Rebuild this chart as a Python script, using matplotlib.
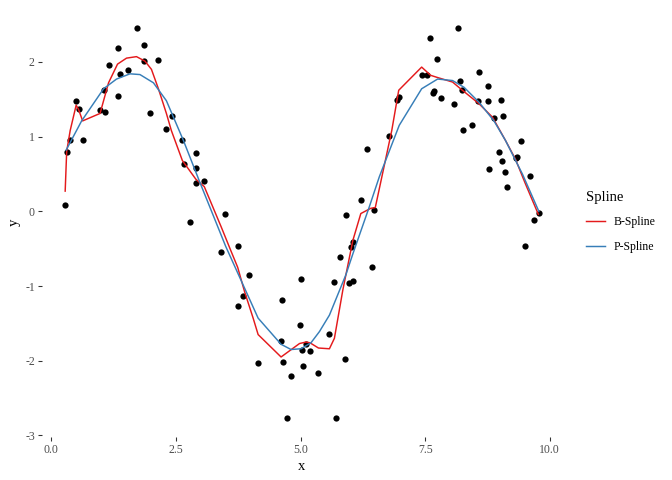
import matplotlib
matplotlib.use("Agg")
import matplotlib.pyplot as plt
import numpy as np

# observed data points
x_obs = [0.28, 0.31, 0.38, 0.50, 0.55, 0.63, 0.98, 1.05, 1.07, 1.15, 1.33, 1.34, 1.37, 1.53,
         1.73, 1.86, 1.87, 1.99, 2.15, 2.31, 2.42, 2.63, 2.66, 2.78, 2.90, 2.90, 2.90, 3.07,
         3.41, 3.49, 3.74, 3.74, 3.85, 3.97, 4.15, 4.61, 4.63, 4.65, 4.73, 4.81, 4.98, 5.01,
         5.03, 5.05, 5.11, 5.19, 5.36, 5.58, 5.67, 5.71, 5.80, 5.89, 5.91, 5.97, 6.01, 6.05,
         6.06, 6.21, 6.33, 6.43, 6.48, 6.77, 6.93, 6.97, 7.43, 7.53, 7.59, 7.65, 7.67, 7.74,
         7.81, 8.07, 8.15, 8.20, 8.23, 8.26, 8.43, 8.57, 8.59, 8.76, 8.76, 8.78, 8.88, 8.98,
         9.03, 9.05, 9.06, 9.11, 9.15, 9.32, 9.34, 9.42, 9.51, 9.61, 9.69, 9.78]
y_obs = [0.09, 0.79, 0.95, 1.48, 1.37, 0.96, 1.36, 1.63, 1.33, 1.96, 2.18, 1.54, 1.84, 1.89,
         2.46, 2.22, 2.01, 1.32, 2.02, 1.10, 1.27, 0.96, 0.63, -0.14, 0.78, 0.58, 0.38, 0.40,
         -0.54, -0.03, -0.47, -1.27, -1.14, -0.85, -2.03, -1.73, -1.19, -2.02, -2.76, -2.21, -1.52, -0.90,
         -1.85, -2.07, -1.77, -1.87, -2.16, -1.64, -0.94, -2.76, -0.61, -1.98, -0.05, -0.96, -0.48, -0.41,
         -0.93, 0.15, 0.84, -0.74, 0.02, 1.01, 1.49, 1.53, 1.82, 1.82, 2.32, 1.58, 1.61, 2.04,
         1.51, 1.43, 2.46, 1.74, 1.62, 1.09, 1.15, 1.47, 1.86, 1.68, 1.48, 0.56, 1.25, 0.80,
         1.49, 0.67, 1.28, 0.52, 0.33, 0.72, 0.73, 0.94, -0.46, 0.47, -0.11, -0.02]

# B-spline fit
x_bs = [0.28, 0.31, 0.38, 0.50, 0.55, 0.63, 0.98, 1.05, 1.15, 1.33, 1.51, 1.71, 1.88, 2.01, 2.15,
        2.31, 2.41, 2.63, 2.90, 3.07, 3.41, 3.58, 3.74, 3.88, 4.05, 4.15, 4.61, 4.98, 5.11,
        5.19, 5.36, 5.58, 5.68, 5.85, 6.05, 6.21, 6.41, 6.50, 6.83, 6.97, 7.43, 7.61, 7.75,
        8.05, 8.21, 8.58, 8.85, 9.11, 9.31, 9.51, 9.77]
y_bs = [0.27, 0.80, 1.08, 1.42, 1.36, 1.21, 1.31, 1.48, 1.72, 1.97, 2.05, 2.07, 2.01, 1.90, 1.64,
        1.31, 1.08, 0.68, 0.43, 0.33, -0.21, -0.49, -0.75, -1.08, -1.43, -1.65, -1.95, -1.77, -1.75,
        -1.76, -1.83, -1.84, -1.70, -1.05, -0.39, -0.03, 0.04, 0.05, 1.08, 1.62, 1.93, 1.82, 1.79,
        1.73, 1.64, 1.44, 1.26, 0.95, 0.70, 0.37, -0.04]

# P-spline fit
x_ps = [0.30, 0.61, 1.05, 1.31, 1.58, 1.78, 2.05, 2.31, 2.65, 2.98, 3.50, 4.15, 4.61, 4.81,
        5.01, 5.21, 5.38, 5.58, 5.91, 6.05, 6.38, 6.58, 6.98, 7.43, 7.75, 8.05, 8.28, 8.58,
        8.88, 9.11, 9.45, 9.78]
y_ps = [0.82, 1.21, 1.64, 1.77, 1.84, 1.83, 1.72, 1.48, 0.95, 0.39, -0.47, -1.43, -1.78, -1.85,
        -1.84, -1.76, -1.61, -1.39, -0.85, -0.57, 0.06, 0.46, 1.15, 1.64, 1.77, 1.75, 1.66, 1.46,
        1.21, 0.95, 0.50, 0.00]

series_names = ["B-Spline", "P-Spline"]
series_colors = ["#E41A1C", "#377EB8"]
x_ticks = [0.0, 2.5, 5.0, 7.5, 10.0]
x_tick_labels = ["0.0", "2.5", "5.0", "7.5", "10.0"]
y_ticks = [-3, -2, -1, 0, 1, 2]
y_tick_labels = ["-3", "-2", "-1", "0", "1", "2"]

plt.rcParams['font.family'] = ['Liberation Serif', 'DejaVu Serif']

fig = plt.figure(figsize=(7, 5), dpi=96)
ax = fig.add_axes([41.5 / 672, 1 - 437 / 480, (562.5 - 41.5) / 672, (437 - 8) / 480])

ax.scatter(x_obs, y_obs, s=22, color="black", linewidths=0, zorder=2)
ax.plot(x_bs, y_bs, color=series_colors[0], lw=1.1, label=series_names[0], zorder=3)
ax.plot(x_ps, y_ps, color=series_colors[1], lw=1.1, label=series_names[1], zorder=3)

xmin, xmax = min(x_obs), max(x_obs)
ymin, ymax = min(y_obs), max(y_obs)
dx = (xmax - xmin) * 0.05
dy = (ymax - ymin) * 0.05
ax.set_xlim(xmin - dx, xmax + dx)
ax.set_ylim(ymin - dy, ymax + dy)

ax.set_xticks(x_ticks)
ax.set_xticklabels(x_tick_labels)
ax.set_yticks(y_ticks)
ax.set_yticklabels(y_tick_labels)
ax.tick_params(axis='both', length=3, width=0.8, color="#333333",
               labelsize=8.8, labelcolor="#4D4D4D", pad=2)
for s in ax.spines.values():
    s.set_visible(False)
ax.grid(False)

ax.set_xlabel("x", fontsize=11, labelpad=3)
ax.set_ylabel("y", fontsize=11, labelpad=3)

leg = fig.legend(handles=ax.get_lines(), labels=series_names, title="Spline",
                 loc="center left", bbox_to_anchor=(578 / 672, 1 - 222 / 480),
                 frameon=False, fontsize=8.8, title_fontsize=11, handlelength=1.6,
                 handletextpad=0.7, labelspacing=1.05, alignment="left",
                 borderpad=0.2)

fig.savefig("out.png", dpi=96)
